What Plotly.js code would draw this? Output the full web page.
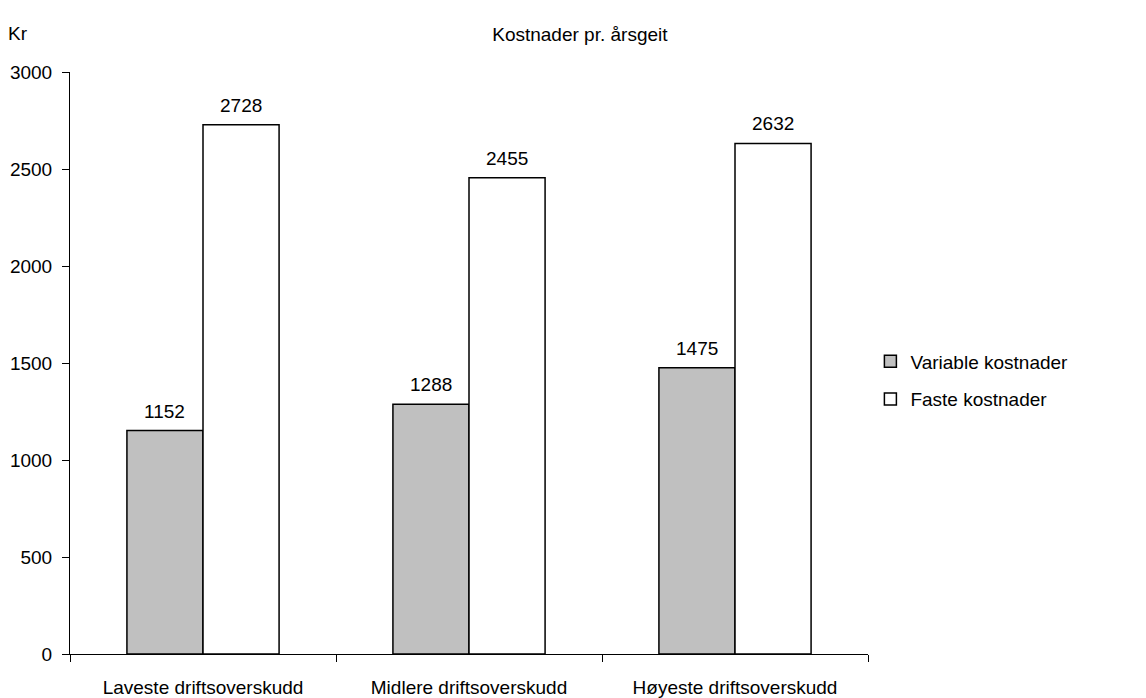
<!DOCTYPE html>
<html>
<head>
<meta charset="utf-8">
<script src="https://cdn.plot.ly/plotly-3.0.1.min.js"></script>
<style>html,body{margin:0;padding:0;background:#fff;}#chart{width:1146px;height:698px;}</style>
</head>
<body>
<div id="chart"></div>
<script>
const categories = ["Laveste driftsoverskudd", "Midlere driftsoverskudd", "Høyeste driftsoverskudd"];
const seriesNames = ["Variable kostnader", "Faste kostnader"];
const variableKostnader = [1152, 1288, 1475];
const fasteKostnader = [2728, 2455, 2632];
const yTicks = [0, 500, 1000, 1500, 2000, 2500, 3000];

const FONT = "Liberation Sans, Arial, sans-serif";
const FS = 19;
const traces = [
  {type: "bar", name: seriesNames[0], x: categories, y: variableKostnader, legendgroup: "a",
   marker: {color: "#c0c0c0", line: {color: "#000", width: 1.5}}, hoverinfo: "y"},
  {type: "bar", name: seriesNames[1], x: categories, y: fasteKostnader, legendgroup: "b",
   marker: {color: "#ffffff", line: {color: "#000", width: 1.5}}, hoverinfo: "y"}
];

const annotations = [];
const offsets = [-0.143, 0.143];
[variableKostnader, fasteKostnader].forEach((vals, s) => {
  vals.forEach((v, i) => {
    annotations.push({x: i + offsets[s], y: v, xref: "x", yref: "y", text: String(v), showarrow: false,
      yanchor: "bottom", yshift: 7, font: {family: FONT, size: FS, color: "#000"}});
  });
});
annotations.push({xref: "paper", yref: "paper", x: -0.08, y: 1.067, xanchor: "left", yanchor: "middle",
  text: "Kr", showarrow: false, font: {family: FONT, size: FS, color: "#000"}});

const layout = {
  width: 1146, height: 698,
  margin: {l: 70, r: 278, t: 72, b: 44},
  paper_bgcolor: "#fff", plot_bgcolor: "#fff",
  font: {family: FONT, size: FS, color: "#000"},
  title: {text: "Kostnader pr. årsgeit", xref: "container", yref: "container", x: 0.506, xanchor: "center",
    y: 1 - 34/698, yanchor: "middle", font: {family: FONT, size: FS, color: "#000"}},
  barmode: "group", bargap: 0.428, bargroupgap: 0,
  xaxis: {type: "category", tickson: "boundaries", ticks: "outside", ticklen: 7, tickcolor: "#000",
    showline: true, linecolor: "#000", linewidth: 1, showgrid: false, zeroline: false,
    ticklabelstandoff: 16,
    tickfont: {family: FONT, size: FS, color: "#000"}},
  yaxis: {range: [0, 3000], tickvals: yTicks, ticks: "outside", ticklen: 7, tickcolor: "#000",
    showline: true, linecolor: "#000", linewidth: 1, showgrid: false, zeroline: false,
    ticklabelstandoff: 6,
    tickfont: {family: FONT, size: FS, color: "#000"}},
  showlegend: true,
  legend: {x: 1.003, xanchor: "left", y: 0.47, yanchor: "middle", traceorder: "grouped", tracegroupgap: 10,
    font: {family: FONT, size: FS, color: "#000"}, bgcolor: "rgba(0,0,0,0)"},
  annotations: annotations
};
Plotly.newPlot("chart", traces, layout, {displayModeBar: false, staticPlot: true});
</script>
</body>
</html>
